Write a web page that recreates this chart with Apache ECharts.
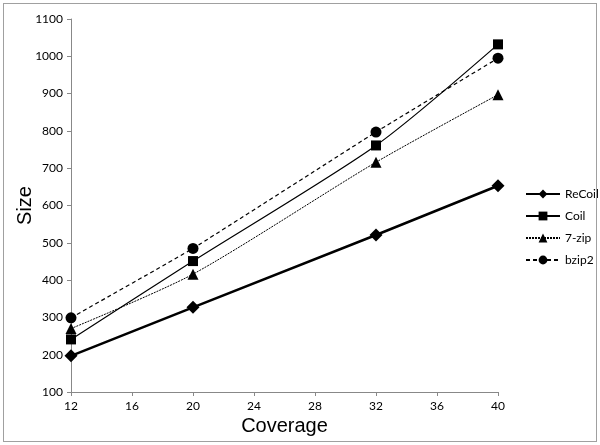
<!DOCTYPE html>
<html><head><meta charset="utf-8">
<script src="https://cdn.jsdelivr.net/npm/echarts@6/dist/echarts.min.js"></script>
<style>html,body{margin:0;padding:0;background:#fff}#c{width:600px;height:445px}
#frame{position:absolute;left:3px;top:3px;width:592px;height:437px;border:1px solid #a0a0a0;pointer-events:none}</style>
</head><body><div id="c"></div><div id="frame"></div>
<script>
const coverage = [12, 20, 32, 40];
const recoil = [197, 327, 521, 653];
const coil = [241, 451, 761, 1032];
const zip7 = [270, 416, 716, 897];
const bzip2 = [299, 485, 797, 995];
const xTicks = [12, 16, 20, 24, 28, 32, 36, 40];
const yTicks = [100, 200, 300, 400, 500, 600, 700, 800, 900, 1000, 1100];

const pair = arr => coverage.map((x, i) => [x, arr[i]]);
const chart = echarts.init(document.getElementById('c'), null, {renderer: 'canvas'});
const tickFont = 'Lato, "Open Sans", sans-serif';
chart.setOption({
  animation: false,
  grid: {left: 71, right: 102, top: 19, bottom: 53, containLabel: false, outerBoundsMode: 'none'},
  legend: {
    orient: 'vertical', left: 520, top: 183, itemWidth: 34, itemHeight: 11, itemGap: 10,
    textStyle: {fontFamily: tickFont, fontSize: 12, color: '#000'},
    data: ['ReCoil', 'Coil', '7-zip', 'bzip2']
  },
  xAxis: {
    type: 'value', min: xTicks[0], max: xTicks[xTicks.length - 1], interval: 4,
    name: 'Coverage', nameLocation: 'middle', nameGap: 24, nameMoveOverlap: false,
    nameTextStyle: {fontFamily: 'Liberation Sans, Arial, sans-serif', fontSize: 20, color: '#000'},
    axisLine: {lineStyle: {color: '#888', width: 1}},
    axisTick: {show: true, length: 4, lineStyle: {color: '#888'}},
    axisLabel: {fontFamily: tickFont, fontSize: 12, color: '#000', margin: 8, formatter: v => String(v)},
    splitLine: {show: false}
  },
  yAxis: {
    type: 'value', min: yTicks[0], max: yTicks[yTicks.length - 1], interval: 100,
    name: 'Size', nameLocation: 'middle', nameGap: 36, nameMoveOverlap: false,
    nameTextStyle: {fontFamily: 'Liberation Sans, Arial, sans-serif', fontSize: 20, color: '#000'},
    axisLine: {show: true, lineStyle: {color: '#888', width: 1}},
    axisTick: {show: true, length: 4, lineStyle: {color: '#888'}},
    axisLabel: {fontFamily: tickFont, fontSize: 12, color: '#000', margin: 8, formatter: v => String(v)},
    splitLine: {show: false}
  },
  series: [
    {name: 'ReCoil', type: 'line', data: pair(recoil), symbol: 'diamond', symbolSize: 13,
     itemStyle: {color: '#000'}, lineStyle: {color: '#000', width: 2.5}},
    {name: 'Coil', type: 'line', data: pair(coil), symbol: 'rect', symbolSize: 10, smooth: 0.25,
     itemStyle: {color: '#000'}, lineStyle: {color: '#000', width: 1.2}},
    {name: '7-zip', type: 'line', data: pair(zip7), symbol: 'triangle', symbolSize: 11, smooth: 0.25,
     itemStyle: {color: '#000'}, lineStyle: {color: '#000', width: 1, type: [2, 1]}},
    {name: 'bzip2', type: 'line', data: pair(bzip2), symbol: 'circle', symbolSize: 11, smooth: 0.1,
     itemStyle: {color: '#000'}, lineStyle: {color: '#000', width: 1.2, type: [4, 3]}}
  ]
});
</script></body></html>
